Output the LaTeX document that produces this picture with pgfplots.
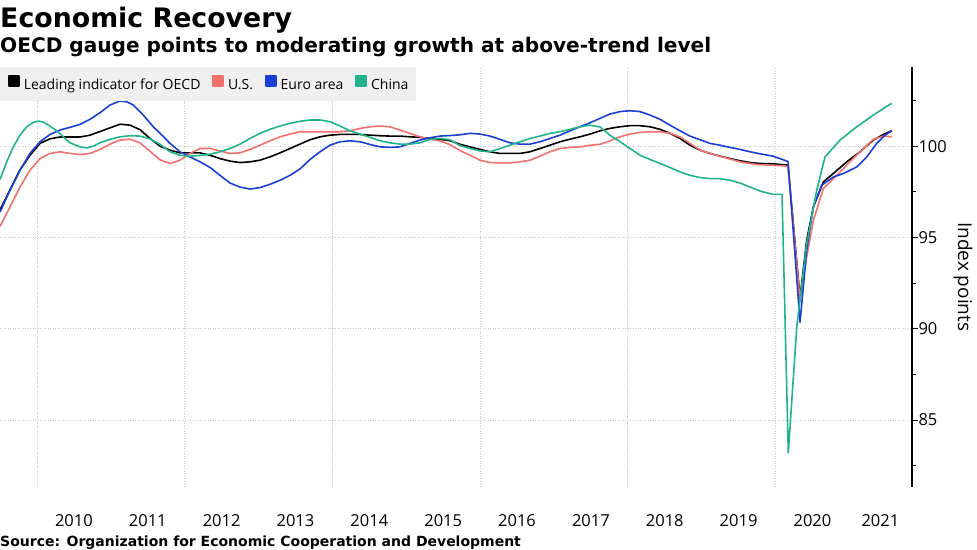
\documentclass[border=0pt]{standalone}
\usepackage{fontspec}
\setmainfont{Open Sans}
\newfontfamily\dejavu{DejaVu Sans}
\usepackage{pgfplots}
\pgfplotsset{compat=1.18}
\usepackage{pgfplotstable}
\definecolor{usred}{HTML}{F2706D}
\definecolor{eublue}{HTML}{1A3FD6}
\definecolor{cngreen}{HTML}{20B48C}
\definecolor{leggray}{HTML}{F0F0F0}
\definecolor{gridgray}{HTML}{C8C8C8}

\pgfplotstableread{
year val
2009.499 96.5
2009.634 97.6
2009.770 98.7
2009.905 99.5
2010.041 100.15
2010.176 100.4
2010.311 100.5
2010.447 100.5
2010.582 100.5
2010.718 100.6
2010.853 100.8
2010.988 101.0
2011.124 101.2
2011.259 101.15
2011.395 100.9
2011.530 100.42
2011.666 100.0
2011.801 99.78
2011.936 99.63
2012.072 99.63
2012.207 99.63
2012.343 99.5
2012.478 99.32
2012.613 99.18
2012.749 99.1
2012.884 99.14
2013.020 99.23
2013.155 99.41
2013.290 99.63
2013.426 99.87
2013.561 100.11
2013.697 100.35
2013.832 100.51
2013.967 100.6
2014.103 100.64
2014.238 100.64
2014.374 100.64
2014.509 100.6
2014.645 100.57
2014.780 100.55
2014.915 100.55
2015.051 100.51
2015.186 100.48
2015.322 100.42
2015.457 100.37
2015.592 100.3
2015.728 100.1
2015.863 99.96
2015.999 99.82
2016.134 99.69
2016.269 99.6
2016.405 99.6
2016.540 99.6
2016.676 99.69
2016.811 99.87
2016.946 100.05
2017.082 100.24
2017.217 100.38
2017.353 100.51
2017.488 100.66
2017.624 100.84
2017.759 100.97
2017.894 101.06
2018.030 101.12
2018.165 101.12
2018.301 101.06
2018.436 100.92
2018.571 100.7
2018.707 100.42
2018.842 100.05
2018.978 99.78
2019.113 99.6
2019.249 99.45
2019.384 99.32
2019.519 99.2
2019.655 99.1
2019.790 99.05
2019.993 99.02
2020.169 98.96
2020.332 91.7
2020.422 94.84
2020.512 96.67
2020.647 98.04
2020.783 98.5
2020.964 99.14
2021.144 99.69
2021.324 100.33
2021.460 100.64
2021.573 100.84
}\oecd

\pgfplotstableread{
year val
2009.499 95.6
2009.634 96.67
2009.770 97.76
2009.905 98.68
2010.041 99.32
2010.176 99.6
2010.311 99.69
2010.447 99.6
2010.582 99.54
2010.718 99.6
2010.853 99.82
2010.988 100.11
2011.124 100.33
2011.259 100.38
2011.395 100.18
2011.530 99.72
2011.666 99.25
2011.801 99.05
2011.936 99.23
2012.072 99.6
2012.207 99.87
2012.343 99.87
2012.478 99.74
2012.613 99.6
2012.749 99.63
2012.884 99.82
2013.020 100.05
2013.155 100.29
2013.290 100.51
2013.426 100.66
2013.561 100.79
2013.697 100.79
2013.832 100.79
2013.967 100.79
2014.103 100.79
2014.238 100.84
2014.374 100.97
2014.509 101.06
2014.645 101.1
2014.780 101.06
2014.915 100.88
2015.051 100.7
2015.186 100.51
2015.322 100.37
2015.457 100.29
2015.592 100.08
2015.728 99.76
2015.863 99.5
2015.999 99.23
2016.134 99.1
2016.269 99.08
2016.405 99.08
2016.540 99.14
2016.676 99.23
2016.811 99.45
2016.946 99.69
2017.082 99.87
2017.217 99.93
2017.353 99.96
2017.488 100.05
2017.624 100.1
2017.759 100.29
2017.894 100.51
2018.030 100.66
2018.165 100.75
2018.301 100.79
2018.436 100.79
2018.571 100.7
2018.707 100.51
2018.842 100.15
2018.978 99.78
2019.113 99.6
2019.249 99.45
2019.384 99.29
2019.519 99.14
2019.655 99.05
2019.790 98.98
2019.993 98.95
2020.169 98.9
2020.332 91.54
2020.422 93.92
2020.512 95.93
2020.647 97.68
2020.783 98.22
2020.964 98.96
2021.144 99.69
2021.324 100.37
2021.460 100.55
2021.573 100.51
}\us

\pgfplotstableread{
year val
2009.499 96.39
2009.634 97.58
2009.770 98.68
2009.905 99.6
2010.041 100.24
2010.176 100.64
2010.311 100.88
2010.447 101.03
2010.582 101.19
2010.718 101.47
2010.853 101.83
2010.988 102.25
2011.124 102.47
2011.215 102.43
2011.304 102.25
2011.439 101.7
2011.575 101.06
2011.666 100.7
2011.801 100.15
2011.936 99.69
2012.072 99.41
2012.207 99.14
2012.343 98.83
2012.478 98.4
2012.613 97.98
2012.749 97.76
2012.884 97.65
2013.020 97.73
2013.155 97.91
2013.290 98.13
2013.426 98.4
2013.561 98.75
2013.697 99.27
2013.832 99.69
2013.967 100.05
2014.103 100.24
2014.238 100.29
2014.374 100.24
2014.509 100.09
2014.645 99.96
2014.780 99.93
2014.915 99.96
2015.051 100.15
2015.186 100.33
2015.322 100.46
2015.457 100.55
2015.592 100.58
2015.728 100.62
2015.863 100.7
2015.999 100.66
2016.134 100.55
2016.269 100.37
2016.405 100.18
2016.540 100.11
2016.676 100.11
2016.811 100.24
2016.946 100.42
2017.082 100.6
2017.217 100.84
2017.353 101.06
2017.488 101.28
2017.624 101.52
2017.759 101.76
2017.894 101.89
2018.030 101.94
2018.165 101.89
2018.301 101.7
2018.436 101.47
2018.571 101.15
2018.707 100.84
2018.842 100.55
2018.978 100.35
2019.113 100.15
2019.249 100.05
2019.384 99.93
2019.519 99.82
2019.655 99.69
2019.790 99.58
2019.966 99.45
2020.169 99.16
2020.332 90.35
2020.422 94.3
2020.512 96.67
2020.626 97.86
2020.783 98.31
2020.918 98.5
2021.100 98.86
2021.235 99.41
2021.370 100.15
2021.483 100.6
2021.573 100.84
}\euro

\pgfplotstableread{
year val
2009.499 98.17
2009.590 99.14
2009.679 99.96
2009.770 100.6
2009.861 101.06
2009.950 101.3
2010.018 101.37
2010.085 101.32
2010.176 101.1
2010.267 100.84
2010.356 100.51
2010.447 100.18
2010.582 99.96
2010.673 99.9
2010.762 100.0
2010.853 100.18
2010.988 100.37
2011.124 100.51
2011.259 100.57
2011.395 100.55
2011.530 100.4
2011.666 100.1
2011.801 99.69
2011.936 99.5
2012.072 99.45
2012.207 99.49
2012.343 99.56
2012.478 99.69
2012.613 99.87
2012.749 100.11
2012.884 100.42
2013.020 100.7
2013.155 100.92
2013.290 101.1
2013.426 101.25
2013.561 101.36
2013.697 101.43
2013.832 101.43
2013.967 101.34
2014.103 101.1
2014.238 100.84
2014.374 100.66
2014.509 100.48
2014.645 100.29
2014.780 100.18
2014.915 100.11
2015.051 100.11
2015.186 100.18
2015.322 100.37
2015.457 100.42
2015.592 100.35
2015.728 100.03
2015.863 99.87
2015.999 99.74
2016.134 99.69
2016.269 99.87
2016.405 100.05
2016.540 100.24
2016.676 100.42
2016.811 100.55
2016.946 100.7
2017.082 100.79
2017.217 100.92
2017.353 101.06
2017.488 101.15
2017.624 101.05
2017.759 100.6
2017.894 100.24
2018.030 99.87
2018.165 99.5
2018.301 99.27
2018.436 99.05
2018.571 98.83
2018.707 98.59
2018.842 98.4
2018.978 98.28
2019.113 98.22
2019.249 98.22
2019.384 98.13
2019.519 97.98
2019.655 97.76
2019.790 97.54
2019.966 97.36
2020.088 97.36
2020.173 83.2
2020.287 90.07
2020.422 94.65
2020.558 97.58
2020.670 99.41
2020.873 100.33
2021.100 101.06
2021.324 101.7
2021.573 102.35
}\china

\begin{document}
\begin{tikzpicture}
\useasboundingbox (0pt,0pt) rectangle (977pt,549pt);
\begin{axis}[
  at={(0pt,62.3pt)}, anchor=south west,
  width=912pt, height=420pt, scale only axis,
  xmin=2009.499, xmax=2021.848, ymin=81.35, ymax=104.35,
  axis y line*=right, axis x line*=bottom,
  x axis line style={draw=none},
  y axis line style={line width=1.3pt, black},
  xtick={2010,2012,2014,2016,2018,2020}, xticklabels={},
  extra x ticks={2010.5,2011.5,2012.5,2013.5,2014.5,2015.5,2016.5,2017.5,2018.5,2019.5,2020.5,2021.42},
  extra x tick labels={2010,2011,2012,2013,2014,2015,2016,2017,2018,2019,2020,2021},
  extra x tick style={grid=none, major tick length=0pt, tick style={draw=none}},
  x tick style={draw=none},
  xmajorgrids, ymajorgrids,
  major grid style={gridgray, dash pattern=on 1pt off 1.5pt, line width=0.9pt},
  ytick={85,90,95,100}, minor ytick={82.5,87.5,92.5,97.5,102.5},
  y tick style={black, line width=1pt},
  tick align=outside, major tick length=6pt, minor tick length=4pt,
  /pgf/number format/assume math mode=true,
  tick label style={font=\fontsize{16.5}{18}\selectfont},
  xticklabel style={anchor=base, yshift=-40pt},
  yticklabel style={xshift=-3pt},
  ylabel={Index points},
  ylabel style={at={(axis description cs:1.0559,0.5)}, anchor=center, rotate=180, font=\fontsize{19}{22}\selectfont},
  legend columns=4,
  legend cell align=left,
  legend image code/.code={\fill[#1] (0pt,-0.5pt) rectangle (10pt,9.5pt);},
  legend style={at={(0,1)}, anchor=north west, fill=leggray, draw=none,
    inner xsep=8pt, inner ysep=8.5pt,
    font=\fontsize{14}{16}\selectfont,
    nodes={inner sep=0pt, text height=10.5pt, text depth=3pt},
    /tikz/every odd column/.append style={column sep=4pt},
    /tikz/every even column/.append style={column sep=12pt}},
  every axis plot/.append style={line width=1.6pt, line join=round, no marks},
]
\addplot[color=black] table[x=year, y=val] {\oecd};
\addlegendentry{Leading indicator for OECD}
\addplot[color=usred] table[x=year, y=val] {\us};
\addlegendentry{U.S.}
\addplot[color=eublue] table[x=year, y=val] {\euro};
\addlegendentry{Euro area}
\addplot[color=cngreen] table[x=year, y=val] {\china};
\addlegendentry{China}
\end{axis}
\node[anchor=base west, inner sep=0pt] at (0pt,521pt) {\dejavu\bfseries\fontsize{26.8}{30}\selectfont Economic Recovery};
\node[anchor=base west, inner sep=0pt] at (0pt,496pt) {\dejavu\bfseries\fontsize{20.1}{24}\selectfont OECD gauge points to moderating growth at above-trend level};
\node[anchor=base west, inner sep=0pt] at (0pt,3pt) {\dejavu\bfseries\fontsize{14}{16}\selectfont Source: Organization for Economic Cooperation and Development};
\end{tikzpicture}
\end{document}
